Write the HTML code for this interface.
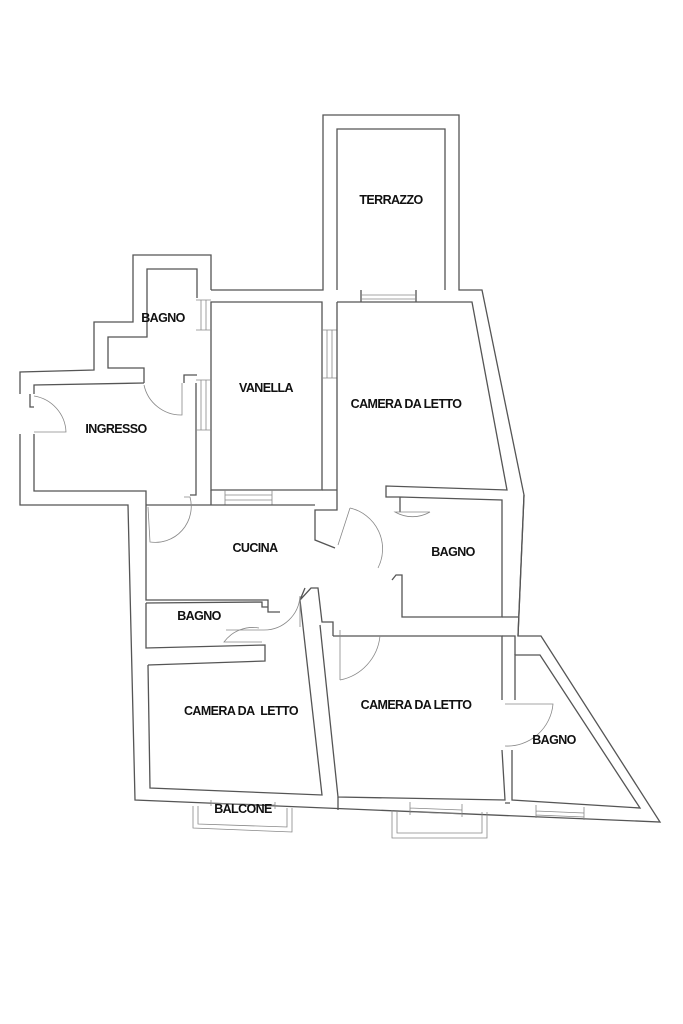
<!DOCTYPE html>
<html><head><meta charset="utf-8"><style>
html,body{margin:0;padding:0;background:#fff}
svg{display:block}
text{font-family:"Liberation Sans",sans-serif;font-weight:bold;font-size:12.5px;fill:#111;text-anchor:middle;letter-spacing:-0.6px}
.w{fill:none;stroke:#555;stroke-width:1.3;stroke-linejoin:miter}
.t{fill:none;stroke:#888;stroke-width:0.8}
</style></head><body>
<svg width="683" height="1024" viewBox="0 0 683 1024">
<rect width="683" height="1024" fill="#fff"/>
<!-- outer contour -->
<path class="w" d="M211,290 L211,255 L133,255 L133,322 L94,322 L94,370 L20,372 L20,394 M20,434 L20,505 L128,505 L135,800 L660,822 L541,636 L518,636 L524,495 L482,290 L459,290 L459,115 L323,115 L323,290 L211,290"/>
<!-- terrazzo inner -->
<path class="w" d="M337,290 L337,129 L445,129 L445,290"/>
<!-- bagno top-left -->
<path class="w" d="M197,298 L197,269 L147,269 L147,337 L108,337 L108,368 L144,368 L144,383"/>
<path class="w" d="M184,383 L184,375 L197,375"/>
<!-- ingresso -->
<path class="w" d="M30,394 L30,407 L34,407 M144,383 L34,385 L34,394 M34,434 L34,491 L146,491 L146,505"/>
<path class="w" d="M196,383 L196,495 L190,495"/>
<!-- vanella -->
<path class="w" d="M211,302 L322,302 L322,490 L211,490 Z"/>
<path class="t" d="M196,300 L211,300 M196,330 L211,330 M201,300 L201,330 M206,300 L206,330 M196,380 L211,380 M196,430 L211,430 M201,380 L201,430 M206,380 L206,430 M225,490 L225,505 M272,490 L272,505 M225,495 L272,495 M225,500 L272,500 M322,330 L337,330 M322,378 L337,378 M327,330 L327,378 M332,330 L332,378"/>
<!-- top right camera -->
<path class="w" d="M361,290 L361,302 M416,290 L416,302 M337,302 L472,302 L507,490 L386,486 L386,497 L400,497"/>
<path class="t" d="M361,295 L416,295 M361,299 L416,299"/>
<path class="w" d="M337,302 L337,510 L315,510 L315,540 L335,548"/>
<!-- cucina -->
<path class="w" d="M211,490 L211,505 L196,505 M322,490 L337,490 M146,505 L146,600 L268,600 L268,612 L280,612 M146,505 L196,505 M211,505 L315,505"/>
<!-- bagno mid right -->
<path class="w" d="M400,497 L502,500 L502,617 L402,617 L402,575 L396,575 L392,580 M400,497 L400,512"/>
<path class="w" d="M386,486 M524,495 L518,636 M502,617 L518,617"/>
<!-- bagno small left -->
<path class="w" d="M146,603 L146,648 L265,645 L265,661 L148,665 M146,603 L262,602 L262,607 L268,607"/>
<!-- camera bottom left -->
<path class="w" d="M148,665 L150,788 L322,795 L300,600 L311,588 L318,588 L322,622 L333,622 L333,636 M300,600 L305,588"/>
<!-- camera bottom middle -->
<path class="w" d="M333,636 L502,636 L502,700 M502,750 L505,800 L338,797 L320,625"/>
<path class="w" d="M338,797 L338,810 M505,803 L510,803"/>
<!-- bagno far right -->
<path class="w" d="M515,700 L515,655 L540,655 L640,808 L512,800 L512,750"/>
<path class="w" d="M502,636 L515,636 L515,655"/>
<!-- windows bottom -->
<path class="t" d="M211,800 L211,806 M275,802 L275,809 M211,803 L275,805 M410,802 L410,815 M462,804 L462,817 M410,808 L462,810 M410,812 L462,814 M536,805 L536,818 M584,807 L584,820 M536,811 L584,813 M536,815 L584,817"/>
<!-- balconies -->
<path class="t" d="M193,806 L193,828 L292,832 L292,808 M198,806 L198,824 L287,827 L287,808"/>
<path class="t" d="M392,810 L392,838 L487,838 L487,812 M397,810 L397,833 L482,833 L482,812"/>
<!-- doors -->
<path class="t" d="M34,396 A38,38 0 0 1 66,432 L34,432"/>
<path class="t" d="M182,383 L182,415 A38,38 0 0 1 144,385"/>
<path class="t" d="M148,507 L150,542 A36,36 0 0 0 190,497 L184,497"/>
<path class="t" d="M350,508 L338,545 M350,508 A42,42 0 0 1 378,568"/>
<path class="t" d="M430,512 L395,512 A35,35 0 0 0 430,512"/>
<path class="t" d="M300,627 L300,596 A36,36 0 0 1 264,630 L226,630"/>
<path class="t" d="M259,628 A36,36 0 0 0 224,642 L262,642"/>
<path class="t" d="M340,680 L340,630 M340,680 A50,50 0 0 0 380,636"/>
<path class="t" d="M505,704 L553,704 A46,46 0 0 1 505,746"/>
<!-- labels -->
<text x="391" y="204">TERRAZZO</text>
<text x="163" y="322">BAGNO</text>
<text x="266" y="392">VANELLA</text>
<text x="406" y="408">CAMERA DA LETTO</text>
<text x="116" y="433">INGRESSO</text>
<text x="255" y="552">CUCINA</text>
<text x="453" y="556">BAGNO</text>
<text x="199" y="620">BAGNO</text>
<text x="241" y="715">CAMERA DA&#160; LETTO</text>
<text x="416" y="709">CAMERA DA LETTO</text>
<text x="554" y="744">BAGNO</text>
<text x="243" y="813">BALCONE</text>
</svg>
</body></html>
